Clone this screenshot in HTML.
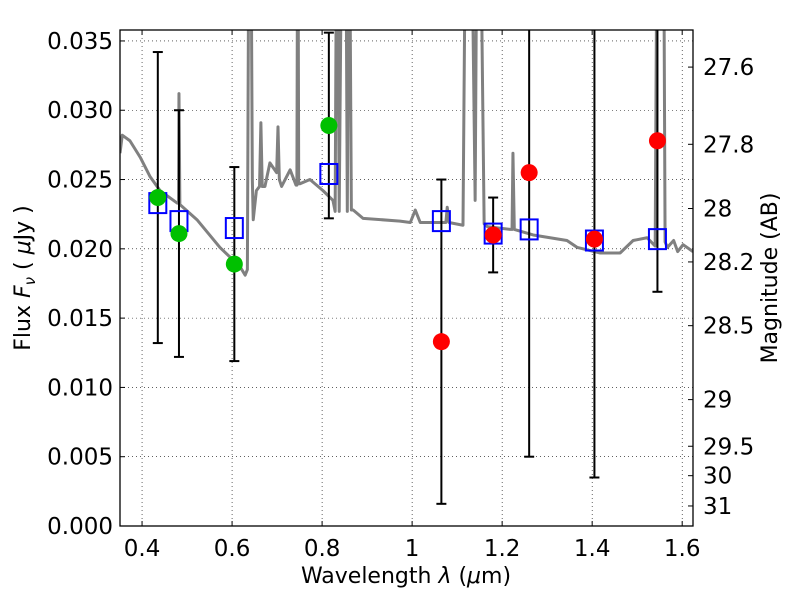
<!DOCTYPE html>
<html><head><meta charset="utf-8"><style>
html,body{margin:0;padding:0;background:#fff;width:800px;height:600px;overflow:hidden;}
svg{font-family:"DejaVu Sans","Liberation Sans",sans-serif;display:block;}
</style></head><body>
<svg id="c" width="800" height="600" viewBox="0 0 800 600">
<text x="406" y="583" text-anchor="middle" font-size="22">Wavelength  <tspan font-style="italic">λ</tspan> (<tspan font-style="italic">μ</tspan>m)</text>
<text transform="translate(30,278) rotate(-90)" text-anchor="middle" font-size="22">Flux  <tspan font-style="italic">F</tspan><tspan font-style="italic" font-size="15" dy="5">ν</tspan><tspan dy="-5">  ( </tspan><tspan font-style="italic">μ</tspan>Jy )</text>
<text transform="translate(777,278) rotate(-90)" text-anchor="middle" font-size="22">Magnitude (AB)</text>
</svg>
<script>
const specWave=[0.351,0.356,0.373,0.396,0.418,0.44,0.478,0.481,0.482,0.484,0.522,0.573,0.618,0.629,0.634,0.638,0.641,0.645,0.647,0.654,0.661,0.664,0.667,0.673,0.684,0.699,0.702,0.705,0.71,0.729,0.742,0.744,0.746,0.748,0.751,0.773,0.802,0.824,0.829,0.833,0.838,0.845,0.852,0.856,0.86,0.865,0.869,0.891,0.973,0.996,1.007,1.018,1.075,1.078,1.082,1.113,1.12,1.13,1.14,1.145,1.15,1.16,1.167,1.218,1.222,1.224,1.227,1.269,1.344,1.367,1.418,1.462,1.491,1.522,1.54,1.545,1.552,1.558,1.562,1.567,1.581,1.59,1.602,1.624];
const specFlux=[0.0269,0.0282,0.0278,0.0266,0.0252,0.0242,0.0233,0.0233,0.0312,0.0232,0.0221,0.0201,0.0187,0.0181,0.0185,0.05,0.05,0.025,0.0221,0.0242,0.0245,0.0291,0.0245,0.0245,0.0262,0.0255,0.0288,0.025,0.0245,0.0257,0.0246,0.0246,0.05,0.0247,0.0247,0.025,0.0242,0.0235,0.0227,0.05,0.0227,0.05,0.05,0.0227,0.05,0.0228,0.0228,0.0222,0.022,0.0219,0.0228,0.0219,0.0219,0.023,0.0219,0.0217,0.05,0.05,0.0235,0.05,0.05,0.0218,0.0216,0.0214,0.0214,0.0269,0.0214,0.021,0.0206,0.0201,0.0197,0.0197,0.0206,0.0208,0.0202,0.05,0.05,0.05,0.0205,0.0201,0.0206,0.0198,0.0203,0.0198];
const modelWave=[0.435,0.482,0.605,0.815,1.065,1.18,1.26,1.405,1.545];
const modelFlux=[0.0233,0.0220,0.0215,0.0254,0.0220,0.0211,0.0214,0.0206,0.0207];
const greenWave=[0.435,0.482,0.605,0.815];
const greenFlux=[0.0237,0.0211,0.0189,0.0289];
const greenErr=[0.0105,0.0089,0.0070,0.0067];
const redWave=[1.065,1.18,1.26,1.405,1.545];
const redFlux=[0.0133,0.0210,0.0255,0.0207,0.0278];
const redErr=[0.0117,0.0027,0.0205,0.0172,0.0109];
const xTicks=[0.4,0.6,0.8,1.0,1.2,1.4,1.6];
const xTickLabels=["0.4","0.6","0.8","1","1.2","1.4","1.6"];
const yTicks=[0,0.005,0.01,0.015,0.02,0.025,0.03,0.035];
const yTickLabels=["0.000","0.005","0.010","0.015","0.020","0.025","0.030","0.035"];
const magTicks=[27.6,27.8,28,28.2,28.5,29,29.5,30,31];
const magLabels=["27.6","27.8","28","28.2","28.5","29","29.5","30","31"];

const L=120,R=693,T=30,B=526,xmin=0.351,xmax=1.624,ymin=0,ymax=0.03579;
const X=v=>L+(v-xmin)/(xmax-xmin)*(R-L);
const Y=v=>B-(v-ymin)/(ymax-ymin)*(B-T);
const svg=document.getElementById('c');const NS='http://www.w3.org/2000/svg';
function mk(t,a,p){const e=document.createElementNS(NS,t);for(const k in a)e.setAttribute(k,a[k]);(p||svg).appendChild(e);return e;}
const defs=mk('defs',{});const cp=mk('clipPath',{id:'cl'},defs);mk('rect',{x:L,y:T,width:R-L,height:B-T},cp);
xTicks.forEach((v,i)=>{
 const g=mk('line',{x1:X(v),x2:X(v),y1:T,y2:B,stroke:'#000','stroke-width':0.6,'stroke-dasharray':'1,3'});
 
 mk('line',{x1:X(v),x2:X(v),y1:B,y2:B-5,stroke:'#000'});mk('line',{x1:X(v),x2:X(v),y1:T,y2:T+5,stroke:'#000'});
 const t=mk('text',{x:X(v),y:B+30,'text-anchor':'middle','font-size':23});t.textContent=xTickLabels[i];
 
});
yTicks.forEach((v,i)=>{
 const g=mk('line',{x1:L,x2:R,y1:Y(v),y2:Y(v),stroke:'#000','stroke-width':0.6,'stroke-dasharray':'1,3'});
 
 mk('line',{x1:L,x2:L+5,y1:Y(v),y2:Y(v),stroke:'#000'});
 const t=mk('text',{x:L-7,y:Y(v)+8,'text-anchor':'end','font-size':23});t.textContent=yTickLabels[i];
 
});
magTicks.forEach((m,i)=>{
 const f=Math.pow(10,(23.9-m)/2.5);const y=Y(f);
 mk('line',{x1:R,x2:R-5,y1:y,y2:y,stroke:'#000'});
 const t=mk('text',{x:R+10,y:y+8,'font-size':23});t.textContent=magLabels[i];
 
});
const pl=mk('polyline',{points:specWave.map((w,i)=>X(w)+','+Y(specFlux[i])).join(' '),fill:'none',stroke:'#808080','stroke-width':3,'clip-path':'url(#cl)','stroke-linejoin':'round'});

function pts(ws,fs,es,name){
 ws.forEach((w,i)=>{
  const g=mk('g',{'clip-path':'url(#cl)'});
  
  const y1=Y(fs[i]-es[i]),y2=Y(fs[i]+es[i]);
  mk('line',{x1:X(w),x2:X(w),y1:y1,y2:y2,stroke:'#000','stroke-width':2},g);
  mk('line',{x1:X(w)-5,x2:X(w)+5,y1:y1,y2:y1,stroke:'#000','stroke-width':2},g);
  mk('line',{x1:X(w)-5,x2:X(w)+5,y1:y2,y2:y2,stroke:'#000','stroke-width':2},g);
 });
}
pts(greenWave,greenFlux,greenErr,'green');
pts(redWave,redFlux,redErr,'red');
modelWave.forEach((w,i)=>{
 const r=mk('rect',{x:X(w)-8.5,y:Y(modelFlux[i])-10,width:17,height:20,fill:'none',stroke:'#0000ff','stroke-width':2});
 
});
greenWave.forEach((w,i)=>{
 const c=mk('circle',{cx:X(w),cy:Y(greenFlux[i]),r:8.5,fill:'#00c000'});
 
});
redWave.forEach((w,i)=>{
 const c=mk('circle',{cx:X(w),cy:Y(redFlux[i]),r:8.5,fill:'#ff0000'});
 
});
const fr=mk('rect',{x:L,y:T,width:R-L,height:B-T,fill:'none',stroke:'#000','stroke-width':1.3});

</script>
</body></html>
